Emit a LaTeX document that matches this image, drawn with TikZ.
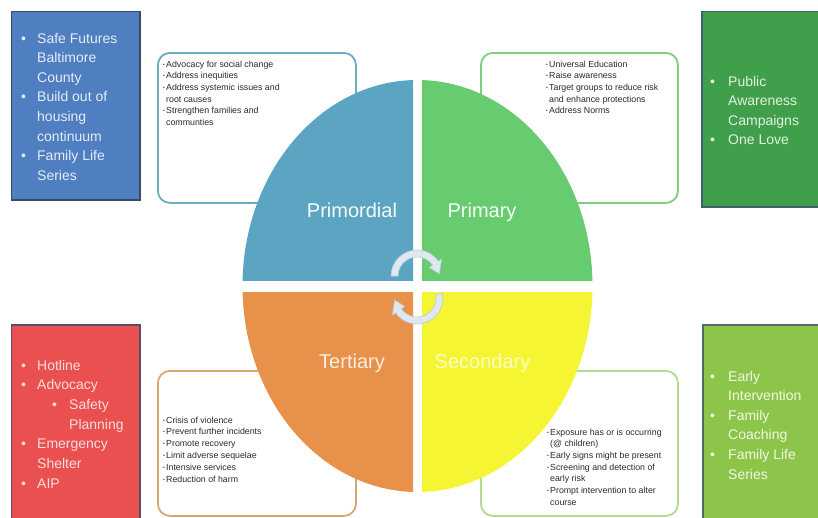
\documentclass[tikz,border=0pt]{standalone}
\usepackage{fontspec}
\setmainfont{Liberation Sans}
\usetikzlibrary{calc}
\definecolor{cPrimordial}{HTML}{5BA5C2}
\definecolor{cPrimary}{HTML}{67CC70}
\definecolor{cTertiary}{HTML}{E8914B}
\definecolor{cSecondary}{HTML}{F6F533}
\definecolor{bPrimordial}{HTML}{68AEC0}
\definecolor{bPrimary}{HTML}{7ED07E}
\definecolor{bTertiary}{HTML}{D6A96F}
\definecolor{bSecondary}{HTML}{B4D98F}
\definecolor{fBlue}{HTML}{4F7EC1}
\definecolor{dBlue}{HTML}{3A4A66}
\definecolor{fRed}{HTML}{E9504F}
\definecolor{dRed}{HTML}{5D4A6A}
\definecolor{fGreen}{HTML}{3F9F4A}
\definecolor{dGreen}{HTML}{3D6068}
\definecolor{fLime}{HTML}{8DC54B}
\definecolor{dLime}{HTML}{4D6B6B}
\definecolor{tBlue}{HTML}{E6ECF6}
\definecolor{tRed}{HTML}{F8DEDE}
\definecolor{tGreen}{HTML}{E2F2E2}
\definecolor{tLime}{HTML}{F0F7E4}
\definecolor{smallgray}{HTML}{2A2A2A}
\definecolor{arrowfill}{HTML}{DFE7EF}
\definecolor{arrowline}{HTML}{B9C9D9}
\newcommand\bigbul{\makebox[16pt][l]{•}}
\newcommand\bigind{\hspace*{16pt}}
\newcommand\smbul{\makebox[3pt][l]{\fontsize{5}{5}\selectfont\raisebox{1pt}{•}}}
\newcommand\smind{\hspace*{3pt}}
\tikzset{
  txtbox/.style={rounded corners=12pt, line width=1.8pt, fill=white},
  colbox/.style={line width=1.2pt},
  bigtxt/.style={anchor=base west, inner sep=0pt, font=\fontsize{14}{16}\selectfont},
  smalltxt/.style={anchor=base west, inner sep=0pt, font=\fontsize{8.8}{10}\selectfont, text=smallgray},
  quadlabel/.style={anchor=base, inner sep=0pt, font=\fontsize{20}{22}\selectfont},
  arrowband/.style={fill=arrowfill, draw=arrowline, line width=0.6pt, line join=round}
}
\begin{document}
\begin{tikzpicture}[x=1pt,y=-1pt]
\useasboundingbox (0,0) rectangle (818,517);
\clip (0,0) rectangle (818,517);
\fill[white] (0,0) rectangle (818,517);

% coloured side boxes
\fill[fBlue, draw=dBlue, colbox] (11.5,11.5) rectangle (140,200);
\fill[fRed, draw=dRed, colbox] (11.5,325) rectangle (140,530);
\fill[fGreen, draw=dGreen, colbox] (702,11.5) rectangle (830,207);
\fill[fLime, draw=dLime, colbox] (703,325) rectangle (830,530);

\foreach \t [count=\i from 0] in {{\bigbul Safe Futures},{\bigind Baltimore},{\bigind County},{\bigbul Build out of},{\bigind housing},{\bigind continuum},{\bigbul Family Life},{\bigind Series}}
  \node[bigtxt, text=tBlue] (blue\i) at (21, 43+19.6*\i) {\t};

\foreach \t [count=\i from 0] in {{\bigbul Hotline},{\bigbul Advocacy},{\hspace*{31pt}\makebox[17pt][l]{•}Safety},{\hspace*{48pt}Planning},{\bigbul Emergency},{\bigind Shelter},{\bigbul AIP}}
  \node[bigtxt, text=tRed] (red\i) at (21, 370+19.7*\i) {\t};

\foreach \t [count=\i from 0] in {{\makebox[18pt][l]{•}Public},{\hspace*{18pt}Awareness},{\hspace*{18pt}Campaigns},{\makebox[18pt][l]{•}One Love}}
  \node[bigtxt, text=tGreen] (green\i) at (710, 86+19.5*\i) {\t};

\foreach \t [count=\i from 0] in {{\makebox[18pt][l]{•}Early},{\hspace*{18pt}Intervention},{\makebox[18pt][l]{•}Family},{\hspace*{18pt}Coaching},{\makebox[18pt][l]{•}Family Life},{\hspace*{18pt}Series}}
  \node[bigtxt, text=tLime] (lime\i) at (710, 381+19.6*\i) {\t};

% white text boxes
\node[txtbox, draw=bPrimordial, anchor=north west, minimum width=198pt, minimum height=150pt] (boxPrimordial) at (157,52) {};
\node[txtbox, draw=bPrimary, anchor=north west, minimum width=197pt, minimum height=150pt] (boxPrimary) at (480,52) {};
\node[txtbox, draw=bTertiary, anchor=north west, minimum width=198pt, minimum height=145pt] (boxTertiary) at (157,370) {};
\node[txtbox, draw=bSecondary, anchor=north west, minimum width=197pt, minimum height=145pt] (boxSecondary) at (480,370) {};

\foreach \t [count=\i from 0] in {{\smbul Advocacy for social change},{\smbul Address inequities},{\smbul Address systemic issues and},{\smind root causes},{\smbul Strengthen families and},{\smind communties}}
  \node[smalltxt] (pl\i) at (163, 67+11.7*\i) {\t};

\foreach \t [count=\i from 0] in {{\smbul Universal Education},{\smbul Raise awareness},{\smbul Target groups to reduce risk},{\smind and enhance protections},{\smbul Address Norms}}
  \node[smalltxt] (pr\i) at (546, 67+11.7*\i) {\t};

\foreach \t [count=\i from 0] in {{\smbul Crisis of violence},{\smbul Prevent further incidents},{\smbul Promote recovery},{\smbul Limit adverse sequelae},{\smbul Intensive services},{\smbul Reduction of harm}}
  \node[smalltxt] (te\i) at (163, 423+11.8*\i) {\t};

\foreach \t [count=\i from 0] in {{\smbul Exposure has or is occurring},{\smind (@ children)},{\smbul Early signs might be present},{\smbul Screening and detection of},{\smind early risk},{\smbul Prompt intervention to alter},{\smind course}}
  \node[smalltxt] (se\i) at (547, 435+11.7*\i) {\t};

% quadrants
\begin{scope}
  \clip (230,60) rectangle (413,280);
  \fill[cPrimordial] (417.5,286) ellipse [x radius=175pt, y radius=206pt];
\end{scope}
\begin{scope}
  \clip (422,60) rectangle (610,280);
  \fill[cPrimary] (417.5,286) ellipse [x radius=175pt, y radius=206pt];
\end{scope}
\begin{scope}
  \clip (230,292) rectangle (413,510);
  \fill[cTertiary] (417.5,286) ellipse [x radius=175pt, y radius=206pt];
\end{scope}
\begin{scope}
  \clip (422,292) rectangle (610,510);
  \fill[cSecondary] (417.5,286) ellipse [x radius=175pt, y radius=206pt];
\end{scope}

\node[quadlabel, text=white!96!cPrimordial] (lPrimordial) at (352,217) {Primordial};
\node[quadlabel, text=white!94!cPrimary] (lPrimary) at (482,217) {Primary};
\node[quadlabel, text=white!85!cTertiary] (lTertiary) at (352,368) {Tertiary};
\node[quadlabel, text=white!70!cSecondary] (lSecondary) at (482.5,368) {Secondary};

% cycle arrows
\coordinate (c1) at (417,276);
\coordinate (c2) at (417,298);
\filldraw[arrowband] ($(c1)+(180:26pt)$) arc[start angle=180, end angle=35, radius=26pt]
  -- ($(c1)+(35:30pt)$) -- ($(c1)+(5:22.5pt)$) -- ($(c1)+(35:15pt)$) -- ($(c1)+(35:19pt)$)
  arc[start angle=35, end angle=180, radius=19pt] -- cycle;
\filldraw[arrowband] ($(c2)+(10:26pt)$) arc[start angle=10, end angle=-145, radius=26pt]
  -- ($(c2)+(-145:30pt)$) -- ($(c2)+(-175:22.5pt)$) -- ($(c2)+(-145:15pt)$) -- ($(c2)+(-145:19pt)$)
  arc[start angle=-145, end angle=10, radius=19pt] -- cycle;
\end{tikzpicture}
\end{document}
